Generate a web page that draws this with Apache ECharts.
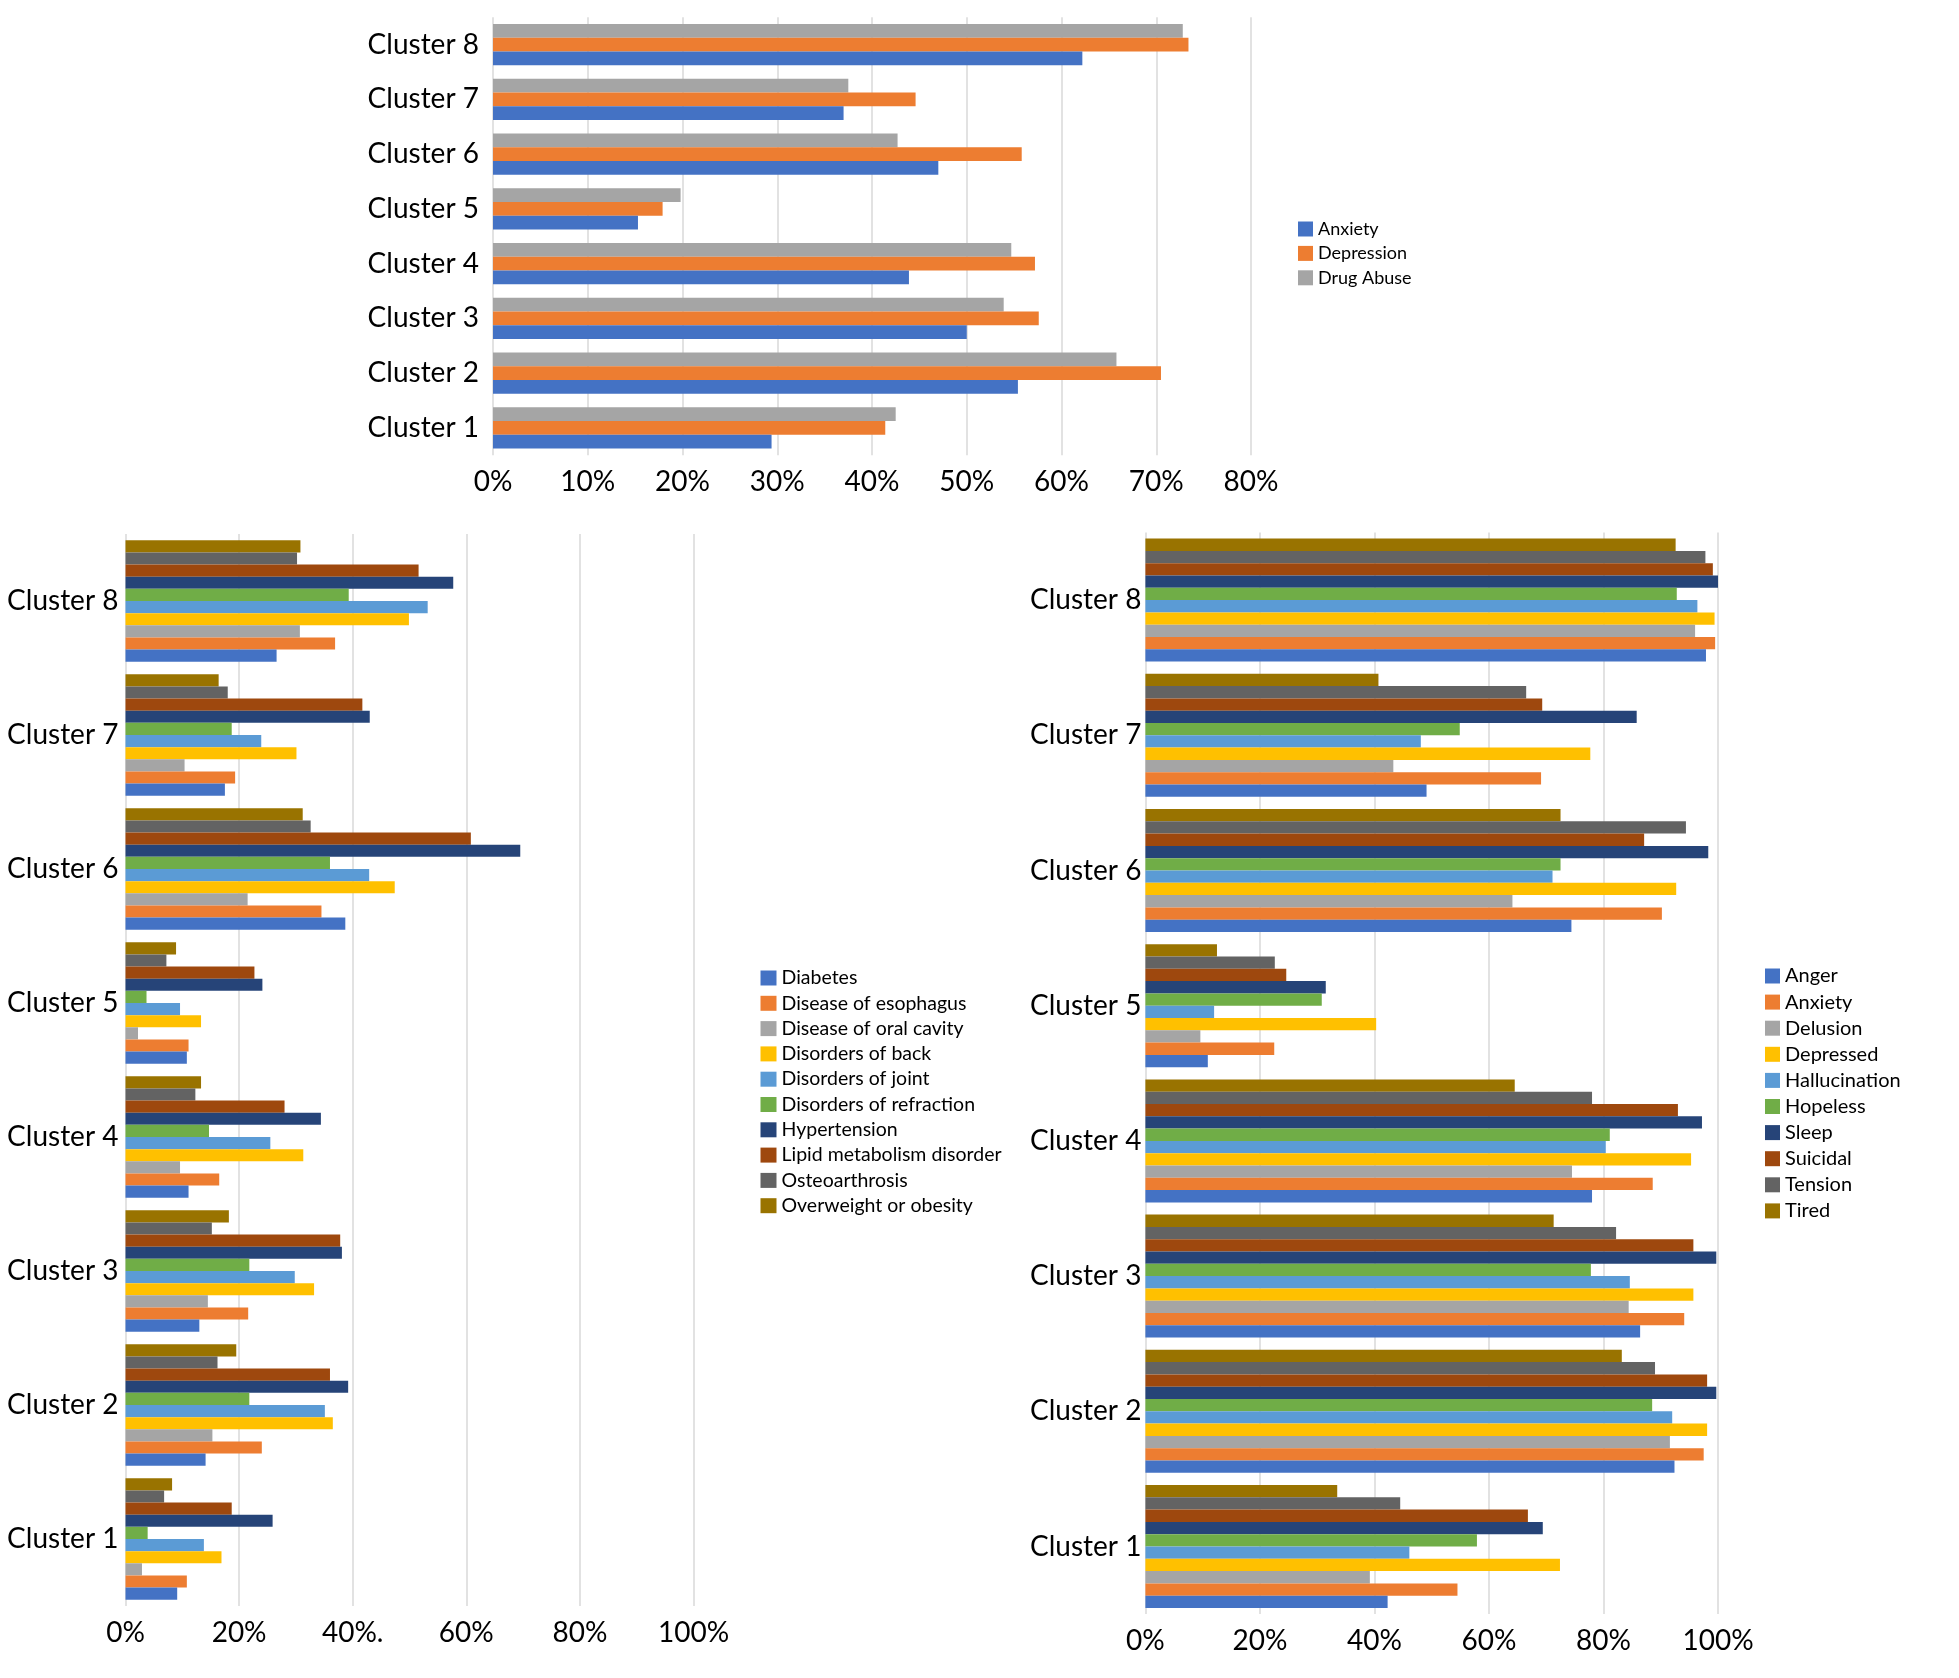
<!DOCTYPE html>
<html>
<head>
<meta charset="utf-8">
<script src="https://cdn.jsdelivr.net/npm/echarts@6/dist/echarts.min.js"></script>
<style>
html,body{margin:0;padding:0;background:#fff;}
#chart{width:1959px;height:1678px;}
</style>
</head>
<body>
<div id="chart"></div>
<script>
// ---------- DATA ----------
const categories = ['Cluster 1','Cluster 2','Cluster 3','Cluster 4','Cluster 5','Cluster 6','Cluster 7','Cluster 8'];

// Top chart
const topSeriesNames = ['Anxiety','Depression','Drug Abuse'];
const topAnxiety    = [29.4, 55.4, 50.0, 43.9, 15.3, 47.0, 37.0, 62.2];
const topDepression = [41.4, 70.5, 57.6, 57.2, 17.9, 55.8, 44.6, 73.4];
const topDrugAbuse  = [42.5, 65.8, 53.9, 54.7, 19.8, 42.7, 37.5, 72.8];
const topTicks = ['0%','10%','20%','30%','40%','50%','60%','70%','80%'];

// Bottom-left chart
const leftSeriesNames = ['Diabetes','Disease of esophagus','Disease of oral cavity','Disorders of back','Disorders of joint','Disorders of refraction','Hypertension','Lipid metabolism disorder','Osteoarthrosis','Overweight or obesity'];
const diabetes     = [9.1, 14.1, 13.0, 11.1, 10.8, 38.7, 17.5, 26.6];
const esophagus    = [10.8, 24.0, 21.6, 16.5, 11.1, 34.5, 19.3, 36.9];
const oralCavity   = [2.9, 15.3, 14.5, 9.6, 2.2, 21.5, 10.4, 30.7];
const back         = [16.9, 36.5, 33.2, 31.3, 13.3, 47.4, 30.1, 49.9];
const joint        = [13.8, 35.1, 29.8, 25.5, 9.6, 42.9, 23.9, 53.2];
const refraction   = [3.9, 21.8, 21.8, 14.7, 3.7, 36.0, 18.7, 39.3];
const hypertension = [25.9, 39.2, 38.1, 34.4, 24.1, 69.5, 43.0, 57.7];
const lipid        = [18.7, 36.0, 37.8, 28.0, 22.7, 60.8, 41.7, 51.6];
const osteo        = [6.8, 16.2, 15.2, 12.3, 7.2, 32.6, 18.0, 30.2];
const overweight   = [8.2, 19.5, 18.2, 13.3, 8.9, 31.2, 16.4, 30.8];
const leftTicks = ['0%','20%','40%.','60%','80%','100%'];

// Bottom-right chart
const rightSeriesNames = ['Anger','Anxiety','Delusion','Depressed','Hallucination','Hopeless','Sleep','Suicidal','Tension','Tired'];
const anger     = [42.3, 92.4, 86.4, 78.0, 10.9, 74.4, 49.1, 97.9];
const anxietyS  = [54.5, 97.5, 94.1, 88.6, 22.5, 90.2, 69.1, 99.5];
const delusion  = [39.2, 91.6, 84.4, 74.5, 9.6, 64.1, 43.3, 96.0];
const depressed = [72.4, 98.1, 95.7, 95.3, 40.3, 92.7, 77.7, 99.4];
const halluc    = [46.1, 92.0, 84.6, 80.4, 12.0, 71.1, 48.1, 96.4];
const hopeless  = [57.9, 88.5, 77.8, 81.1, 30.8, 72.5, 54.9, 92.8];
const sleep     = [69.4, 99.7, 99.7, 97.2, 31.5, 98.3, 85.8, 100];
const suicidal  = [66.8, 98.1, 95.7, 93.0, 24.6, 87.1, 69.3, 99.1];
const tension   = [44.5, 89.0, 82.2, 78.0, 22.6, 94.4, 66.5, 97.8];
const tired     = [33.5, 83.2, 71.3, 64.5, 12.5, 72.5, 40.7, 92.6];
const rightTicks = ['0%','20%','40%','60%','80%','100%'];

// ---------- STYLE ----------
const palette = ['#4472C4','#ED7D31','#A5A5A5','#FFC000','#5B9BD5','#70AD47','#264478','#9E480E','#636363','#997300'];
const FONT = 'Lato';
const gridColor = '#d9d9d9';

const chart = echarts.init(document.getElementById('chart'), null, {renderer:'canvas'});

function xAxisDef(gridIndex, max, interval, ticks){
  return {
    type:'value', gridIndex, min:0, max, interval,
    axisLine:{show:false}, axisTick:{show:false},
    splitLine:{show:true, lineStyle:{color:gridColor, width:1.5}},
    axisLabel:{
      fontFamily:FONT, fontSize:28, color:'#000', margin:13,
      formatter:(v)=>ticks[Math.round(v/interval)]
    }
  };
}
function yAxisDef(gridIndex, margin){
  return {
    type:'category', gridIndex, data:categories,
    axisLine:{show:false}, axisTick:{show:false},
    axisLabel:{fontFamily:FONT, fontSize:28, color:'#000', margin}
  };
}

function buildSeries(names, arrays, gridIdx, catGap){
  const list = names.map((n,i)=>({
    name:n, type:'bar', xAxisIndex:gridIdx, yAxisIndex:gridIdx,
    data:arrays[i], barGap:'0%', barCategoryGap:catGap,
    itemStyle:{color:palette[i]},
    emphasis:{disabled:true}
  }));
  return list.reverse(); // first series drawn at bottom of each group
}

const series = [].concat(
  buildSeries(topSeriesNames,[topAnxiety,topDepression,topDrugAbuse],0,'24.5%'),
  buildSeries(leftSeriesNames,[diabetes,esophagus,oralCavity,back,joint,refraction,hypertension,lipid,osteo,overweight],1,'9.4%'),
  buildSeries(rightSeriesNames,[anger,anxietyS,delusion,depressed,halluc,hopeless,sleep,suicidal,tension,tired],2,'9%')
);

function legendDef(names, left, top, fs, lh, iw, ih, gap){
  return {
    orient:'vertical', left, top, padding:0,
    data:names.map((n,i)=>({name:n, itemStyle:{color:palette[i]}})),
    icon:'rect', itemWidth:iw, itemHeight:ih, itemGap:gap,
    selectedMode:false,
    textStyle:{fontFamily:FONT, fontSize:fs, lineHeight:lh, color:'#000'}
  };
}

chart.setOption({
  backgroundColor:'#fff',
  animation:false,
  grid:[
    {left:493, top:17.3, width:758, height:437.9, containLabel:false},
    {left:125.5, top:534, width:568, height:1072, containLabel:false},
    {left:1145.4, top:532.5, width:572.6, height:1081.6, containLabel:false}
  ],
  xAxis:[
    xAxisDef(0,80,10,topTicks),
    xAxisDef(1,100,20,leftTicks),
    xAxisDef(2,100,20,rightTicks)
  ],
  yAxis:[yAxisDef(0,14),yAxisDef(1,7),yAxisDef(2,4)],
  legend:[
    legendDef(topSeriesNames,1298,219.5,18,19,15,15,5.4),
    legendDef(leftSeriesNames,760.5,968,19.5,20,16,15,5.3),
    legendDef(rightSeriesNames,1765,966,20,20,15,15,6.1)
  ],
  series
});
</script>
</body>
</html>
